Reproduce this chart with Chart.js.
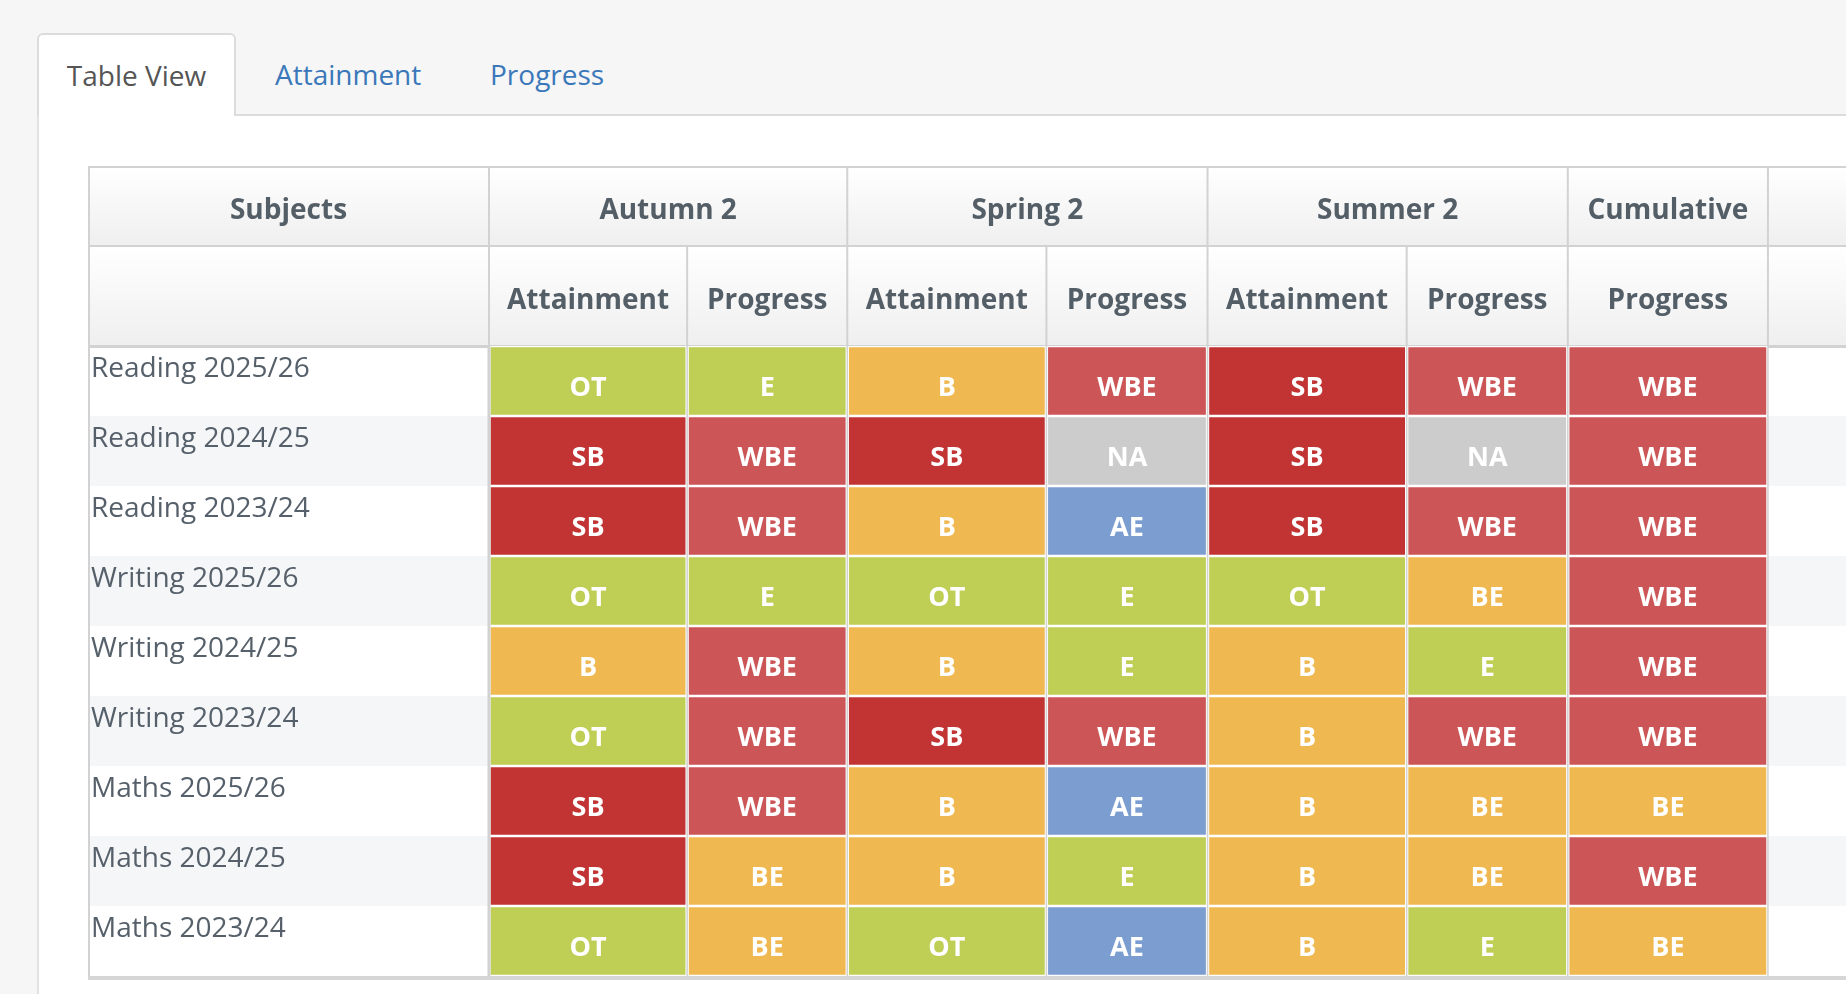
<!DOCTYPE html>
<html>
<head>
<meta charset="utf-8">
<title>Table View</title>
<script src="https://cdn.jsdelivr.net/npm/chart.js@4.4.1/dist/chart.umd.min.js"></script>
<style>
    html, body { margin: 0; padding: 0; }
    body {
        width: 1846px; height: 994px; overflow: hidden;
        background: #f6f6f6; position: relative;
        font-family: "Open Sans", "Noto Sans", sans-serif;
    }
    .tab {
        position: absolute; left: 37px; top: 33px; width: 199px; height: 83px;
        background: #fff; border: 2px solid #dcdcdc; border-bottom: none;
        border-radius: 6px 6px 0 0; box-sizing: border-box;
        font-size: 28px; color: #555; text-align: center; line-height: 80px;
    }
    .tab-line { position: absolute; left: 236px; right: 0; top: 114px; height: 2px; background: #dcdcdc; }
    .panel {
        position: absolute; left: 37px; right: 0; top: 116px; bottom: 0;
        background: #fff; border-left: 2px solid #e2e2e2;
    }
    .link { position: absolute; top: 34px; line-height: 80px; font-size: 28px; color: #3a78ba; }
    #wrap { position: absolute; left: 88px; top: 166px; width: 1758px; height: 818px; }
</style>
</head>
<body>
<div class="panel"></div>
<div class="tab-line"></div>
<div class="tab">Table View</div>
<div class="link" style="left:275px">Attainment</div>
<div class="link" style="left:490px">Progress</div>
<div id="wrap"><canvas id="gradeTable"></canvas></div>

<script>
// 数据
const subjects = ['Reading 2025/26', 'Reading 2024/25', 'Reading 2023/24',
    'Writing 2025/26', 'Writing 2024/25', 'Writing 2023/24',
    'Maths 2025/26', 'Maths 2024/25', 'Maths 2023/24'];
const terms = ['Autumn 2', 'Spring 2', 'Summer 2', 'Cumulative'];
const termSpans = [2, 2, 2, 1];
const columns = ['Attainment', 'Progress', 'Attainment', 'Progress', 'Attainment', 'Progress', 'Progress'];

const autumnAttainment = ['OT', 'SB', 'SB', 'OT', 'B', 'OT', 'SB', 'SB', 'OT'];
const autumnProgress   = ['E', 'WBE', 'WBE', 'E', 'WBE', 'WBE', 'WBE', 'BE', 'BE'];
const springAttainment = ['B', 'SB', 'B', 'OT', 'B', 'SB', 'B', 'B', 'OT'];
const springProgress   = ['WBE', 'NA', 'AE', 'E', 'E', 'WBE', 'AE', 'E', 'AE'];
const summerAttainment = ['SB', 'SB', 'SB', 'OT', 'B', 'B', 'B', 'B', 'B'];
const summerProgress   = ['WBE', 'NA', 'WBE', 'BE', 'E', 'WBE', 'BE', 'BE', 'E'];
const cumulativeProgress = ['WBE', 'WBE', 'WBE', 'WBE', 'WBE', 'WBE', 'BE', 'WBE', 'BE'];

const grades = [autumnAttainment, autumnProgress, springAttainment, springProgress,
    summerAttainment, summerProgress, cumulativeProgress];

const gradeColors = {
    OT: '#bfce55', E: '#bfce55',
    B: '#f0b850', BE: '#f0b850',
    SB: '#c23333', WBE: '#cc5557',
    NA: '#cccccc', AE: '#7b9dd0'
};

// 版式（列宽比例，最后一列为右侧空白列）
const colWidths = [198, 160, 199, 161, 199, 161, 200];
const extraWidth = 78;
const bounds = [0];
colWidths.forEach(w => bounds.push(bounds[bounds.length - 1] + w));
const xMax = bounds[bounds.length - 1] + extraWidth;
const colCenters = colWidths.map((w, i) => bounds[i] + w / 2);
const termBounds = [0];
termSpans.forEach(s => termBounds.push(termBounds[termBounds.length - 1] + s));
const termCenters = terms.map((t, i) => (bounds[termBounds[i]] + bounds[termBounds[i + 1]]) / 2);

const FONT = '"Open Sans", "Noto Sans", sans-serif';
const HEAD_COLOR = '#545e67';
const LINE = '#d2d2d2';

// 去掉坐标轴自动加的留白
function noPadding(s) {
    s.paddingTop = 0; s.paddingBottom = 0; s.paddingLeft = 0; s.paddingRight = 0;
}

const tablePlugin = {
    id: 'tablePlugin',
    beforeDraw(chart) {
        const ctx = chart.ctx;
        const x = chart.scales.x, top = chart.scales.top, y = chart.scales.y;
        const W = chart.width;
        const band = y.getPixelForValue(1) - y.getPixelForValue(0);
        ctx.save();
        // 表头渐变
        [[top.top, top.bottom], [x.top, x.bottom]].forEach(([t, b]) => {
            const g = ctx.createLinearGradient(0, t, 0, b);
            g.addColorStop(0, '#ffffff');
            g.addColorStop(1, '#efefef');
            ctx.fillStyle = g;
            ctx.fillRect(0, t, W, b - t);
        });
        // 斑马纹
        subjects.forEach((s, i) => {
            ctx.fillStyle = i % 2 ? '#f5f6f8' : '#ffffff';
            ctx.fillRect(0, y.getPixelForValue(i) - band / 2, W, band);
        });
        // 表头线
        ctx.fillStyle = LINE;
        ctx.fillRect(0, top.top, W, 2);
        ctx.fillRect(0, x.top - 1, W, 2);
        ctx.fillRect(0, x.bottom - 1, W, 3);
        termBounds.forEach(b => {
            ctx.fillRect(x.getPixelForValue(bounds[b]) - 1, top.top, 2, top.bottom - top.top);
        });
        bounds.forEach(b => {
            ctx.fillRect(x.getPixelForValue(b) - 1, x.top, 2, x.bottom - x.top);
        });
        ctx.fillRect(0, top.top, 2, chart.chartArea.bottom - top.top);
        ctx.restore();
    },
    afterDatasetsDraw(chart) {
        const ctx = chart.ctx;
        const x = chart.scales.x, area = chart.chartArea;
        ctx.save();
        ctx.fillStyle = LINE;
        bounds.forEach((b, i) => {
            const w = i === 0 ? 3 : 1.5;
            ctx.fillRect(x.getPixelForValue(b) - w / 2, area.top, w, area.bottom - area.top);
        });
        // 单元格文字
        ctx.fillStyle = '#ffffff';
        ctx.font = 'bold 27px ' + FONT;
        ctx.textAlign = 'center';
        ctx.textBaseline = 'middle';
        chart.data.datasets.forEach((ds, di) => {
            chart.getDatasetMeta(di).data.forEach((el, i) => {
                const p = el.getProps(['x', 'y', 'base'], true);
                ctx.fillText(grades[di][i], (p.x + p.base) / 2, p.y + 7);
            });
        });
        ctx.restore();
    },
    afterDraw(chart) {
        const ctx = chart.ctx;
        const top = chart.scales.top, area = chart.chartArea;
        ctx.save();
        ctx.fillStyle = HEAD_COLOR;
        ctx.font = 'bold 28px ' + FONT;
        ctx.textAlign = 'center';
        ctx.textBaseline = 'middle';
        ctx.fillText('Subjects', area.left / 2, (top.top + top.bottom) / 2 + 5);
        ctx.fillStyle = '#d6d6d6';
        ctx.fillRect(0, area.bottom, chart.width, 4);
        ctx.restore();
    }
};

new Chart(document.getElementById('gradeTable').getContext('2d'), {
    type: 'bar',
    data: {
        labels: subjects.map(s => [s, '']),
        datasets: grades.map((col, c) => ({
            label: columns[c],
            data: col.map(() => [bounds[c], bounds[c + 1]]),
            backgroundColor: col.map(g => gradeColors[g]),
            borderColor: '#ffffff',
            borderWidth: { left: 2, right: 2, top: 1.5, bottom: 1.5 },
            borderSkipped: false,
            barPercentage: 1,
            categoryPercentage: 1,
            grouped: false
        }))
    },
    options: {
        indexAxis: 'y',
        responsive: true,
        maintainAspectRatio: false,
        animation: false,
        devicePixelRatio: 1,
        layout: { padding: { left: 3, top: 0, right: 0, bottom: 8 } },
        plugins: { legend: { display: false }, tooltip: { enabled: false } },
        scales: {
            x: {
                type: 'linear', position: 'top', min: 0, max: xMax, weight: 0,
                grid: { display: false, drawTicks: false },
                border: { display: false },
                afterBuildTicks: s => { s.ticks = colCenters.map(v => ({ value: v })); },
                afterFit: s => { s.height = 100; noPadding(s); },
                ticks: {
                    autoSkip: false, maxRotation: 0, padding: 28,
                    color: HEAD_COLOR, font: { family: FONT, size: 28, weight: 'bold' },
                    callback: (v, i) => columns[i]
                }
            },
            top: {
                type: 'linear', position: 'top', min: 0, max: xMax, weight: 1,
                grid: { display: false, drawTicks: false },
                border: { display: false },
                afterBuildTicks: s => { s.ticks = termCenters.map(v => ({ value: v })); },
                afterFit: s => { s.height = 80; noPadding(s); },
                ticks: {
                    autoSkip: false, maxRotation: 0, padding: 18,
                    color: HEAD_COLOR, font: { family: FONT, size: 28, weight: 'bold' },
                    callback: (v, i) => terms[i]
                }
            },
            y: {
                type: 'category',
                grid: { display: false, drawTicks: false },
                border: { display: false },
                afterFit: s => { s.width = 398; noPadding(s); },
                ticks: {
                    autoSkip: false, crossAlign: 'far', padding: 0,
                    color: '#56606a', font: { family: FONT, size: 28, lineHeight: 0.86 }
                }
            }
        }
    },
    plugins: [tablePlugin]
});
</script>
</body>
</html>
